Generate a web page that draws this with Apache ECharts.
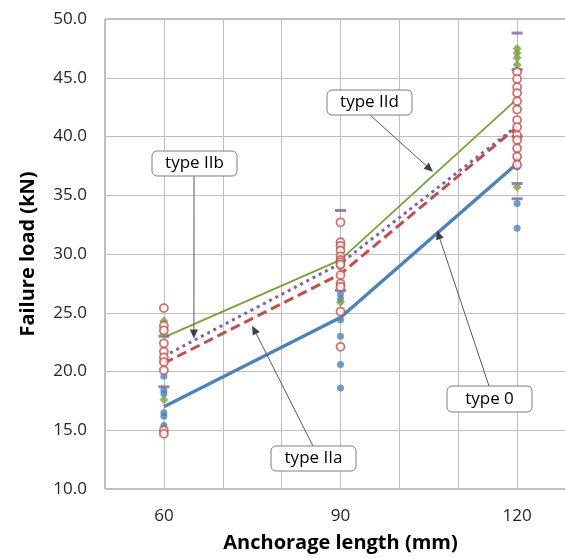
<!DOCTYPE html>
<html>
<head>
<meta charset="utf-8">
<script src="https://cdn.jsdelivr.net/npm/echarts@6/dist/echarts.min.js"></script>
<style>
  html, body { margin: 0; padding: 0; background: #fff; }
  #main { width: 565px; height: 558px; }
</style>
</head>
<body>
<div id="main"></div>
<script>
// anchorage lengths (mm)
const anchorLengths = [60, 90, 120]
const xTickLabels = [60, 90, 120]

// mean failure load per type (kN)
const meanType0 = [17.0, 24.6, 37.7]
const meanIIa = [20.7, 28.3, 40.8]
const meanIIb = [21.3, 29.2, 40.9]
const meanIId = [22.9, 29.5, 43.2]

// single test results, one list per anchorage length
const testsType0 = [
  [19.6, 18.4, 18.1, 16.5, 16.2, 15.4],
  [26.6, 26.2, 24.4, 23.0, 20.6, 18.6],
  [38.0, 37.4, 34.3, 32.2]
]
const testsIIa = [
  [25.4, 23.9, 23.5, 22.4, 21.7, 21.2, 20.8, 20.1, 15.0, 14.7],
  [32.7, 31.0, 30.7, 30.3, 29.8, 29.5, 29.3, 29.1, 28.2, 27.5, 27.2, 25.1, 22.1],
  [45.5, 44.9, 44.2, 43.7, 43.0, 42.3, 41.4, 40.8, 40.1, 39.7, 39.0, 38.3, 37.6]
]
const testsIIb = [
  [23.0, 18.7],
  [33.7, 26.9],
  [48.8, 45.7, 40.0, 36.0, 34.7]
]
const testsIId = [
  [24.3, 23.2, 17.6],
  [28.9, 27.6, 25.9],
  [47.5, 47.1, 46.7, 46.1, 35.7]
]

// callout labels and the data point each arrow points at
const calloutNames = ["type IIb", "type IId", "type IIa", "type 0"]
const calloutTips = [[65.1, 22.8], [105.7, 37.0], [75.0, 23.9], [106.4, 32.0]]

const C0 = "#4f81bd", CA = "#c0504d", CB = "#8064a2", CD = "#77a13b"
const FONT = "Open Sans"

function pairs(values) {
  return anchorLengths.map((x, i) => [x, values[i]])
}
function points(groups) {
  const out = []
  groups.forEach((g, i) => g.forEach(v => out.push([anchorLengths[i], v])))
  return out
}

const myChart = echarts.init(document.getElementById("main"), null, { renderer: "canvas" })

const option = {
  animation: false,
  backgroundColor: "#fff",
  grid: {
    left: 105,
    top: 19,
    width: 471,
    height: 470,
    outerBoundsMode: "none",
    containLabel: false,
    show: true,
    borderColor: "#808080",
    borderWidth: 1
  },
  xAxis: {
    type: "value",
    min: 50,
    max: 130,
    interval: 10,
    name: "Anchorage length (mm)",
    nameLocation: "middle",
    nameGap: 44,
    nameTextStyle: { fontFamily: FONT, fontSize: 20, fontWeight: "bold", color: "#000" },
    axisLine: { show: false },
    axisTick: { show: false },
    axisLabel: {
      margin: 19,
      fontFamily: FONT,
      fontSize: 17,
      color: "#262626",
      formatter: v => (xTickLabels.indexOf(v) >= 0 ? String(v) : "")
    },
    splitLine: { show: true, lineStyle: { color: "#bfbfbf", width: 1 } }
  },
  yAxis: {
    type: "value",
    min: 10,
    max: 50,
    interval: 5,
    name: "Failure load (kN)",
    nameLocation: "middle",
    nameGap: 67,
    nameTextStyle: { fontFamily: FONT, fontSize: 20, fontWeight: "bold", color: "#000" },
    axisLine: { show: false },
    axisTick: { show: false },
    axisLabel: {
      margin: 18,
      fontFamily: FONT,
      fontSize: 17,
      color: "#262626",
      formatter: v => v.toFixed(1)
    },
    splitLine: { show: true, lineStyle: { color: "#bfbfbf", width: 1 } }
  },
  series: [
    {
      name: "type 0 mean", type: "line", data: pairs(meanType0), symbol: "none",
      lineStyle: { color: C0, width: 3.5 }, z: 3
    },
    {
      name: "type IIa mean", type: "line", data: pairs(meanIIa), symbol: "none",
      lineStyle: { color: CA, width: 3, type: [10, 5] }, z: 3
    },
    {
      name: "type IIb mean", type: "line", data: pairs(meanIIb), symbol: "none",
      lineStyle: { color: CB, width: 3, type: [3, 4] }, z: 3
    },
    {
      name: "type IId mean", type: "line", data: pairs(meanIId), symbol: "none",
      lineStyle: { color: CD, width: 1.8 }, z: 3
    },
    {
      name: "type 0", type: "scatter", data: points(testsType0), symbol: "circle", symbolSize: 7,
      itemStyle: { color: C0 }, z: 4
    },
    {
      name: "type IIb", type: "scatter", data: points(testsIIb), symbol: "rect", symbolSize: [11, 3],
      itemStyle: { color: CB }, z: 4
    },
    {
      name: "type IId", type: "scatter", data: points(testsIId), symbol: "diamond", symbolSize: 9,
      itemStyle: { color: CD }, z: 4
    },
    {
      name: "type IIa", type: "scatter", data: points(testsIIa), symbol: "circle", symbolSize: 8,
      itemStyle: { color: "#fff", borderColor: CA, borderWidth: 1.8 }, z: 5
    }
  ]
}
myChart.setOption(option, true)

// callout boxes: [x, y, w, h] and arrow start point
const boxes = [
  { rect: [152, 151, 85, 25], from: [194, 176] },
  { rect: [327, 90, 85, 25], from: [370, 115] },
  { rect: [271, 446, 85, 25], from: [313, 446] },
  { rect: [447, 386, 85, 26], from: [489, 386] }
]

const graphics = []
boxes.forEach((b, i) => {
  const tip = myChart.convertToPixel({ gridIndex: 0 }, calloutTips[i])
  const [x1, y1] = b.from
  const [x2, y2] = tip
  const ang = Math.atan2(y2 - y1, x2 - x1)
  const L = 9, W = 4
  const bx = x2 - L * Math.cos(ang), by = y2 - L * Math.sin(ang)
  graphics.push({
    type: "line", z: 100,
    shape: { x1: x1, y1: y1, x2: bx, y2: by },
    style: { stroke: "#595959", lineWidth: 1 }
  })
  graphics.push({
    type: "polygon", z: 100,
    shape: {
      points: [
        [x2, y2],
        [bx + W * Math.sin(ang), by - W * Math.cos(ang)],
        [bx - W * Math.sin(ang), by + W * Math.cos(ang)]
      ]
    },
    style: { fill: "#404040" }
  })
  graphics.push({
    type: "rect", z: 101,
    shape: { x: b.rect[0], y: b.rect[1], width: b.rect[2], height: b.rect[3], r: 5 },
    style: { fill: "#fff", stroke: "#7f7f7f", lineWidth: 1 }
  })
  graphics.push({
    type: "text", z: 102,
    x: b.rect[0] + b.rect[2] / 2, y: b.rect[1] + b.rect[3] / 2,
    style: {
      text: calloutNames[i], fill: "#000", font: "17px '" + FONT + "'",
      align: "center", verticalAlign: "middle"
    }
  })
})
myChart.setOption({ graphic: graphics })
</script>
</body>
</html>
